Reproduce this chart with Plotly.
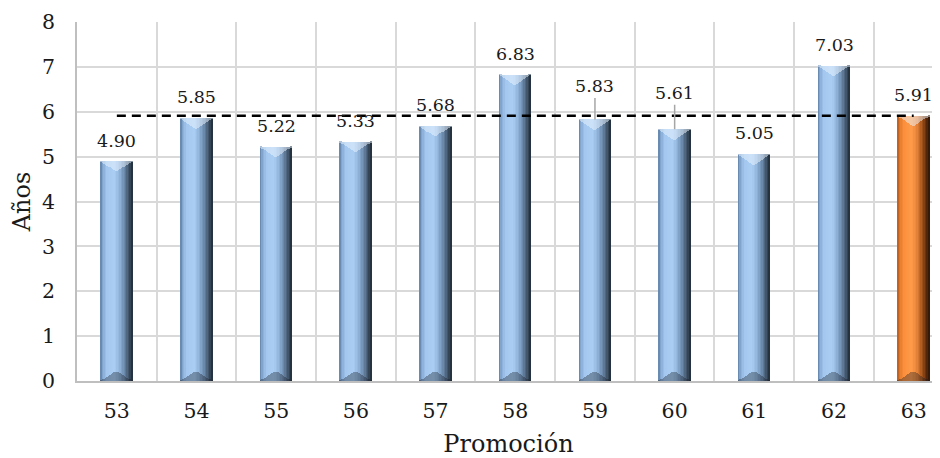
import plotly.graph_objects as go

categories = ["53", "54", "55", "56", "57", "58", "59", "60", "61", "62", "63"]
values = [4.90, 5.85, 5.22, 5.33, 5.68, 6.83, 5.83, 5.61, 5.05, 7.03, 5.91]
labels = ["4.90", "5.85", "5.22", "5.33", "5.68", "6.83", "5.83", "5.61", "5.05", "7.03", "5.91"]
average = 5.91
label_shift = [20, 21, 21, 21, 21, 21, 33, 36, 21, 21, 21]
leader = [False, False, False, False, False, False, True, True, False, False, False]
highlight = "63"

FONT = "DejaVu Serif"

blue_stops = [(0.0, "#5f7fa3"), (0.08, "#86aad3"), (0.2, "#a3c7ee"), (0.45, "#aacef3"),
              (0.6, "#90b3d9"), (0.75, "#6b89ab"), (0.88, "#45596f"), (1.0, "#1e2a36")]
orange_stops = [(0.0, "#b85a1a"), (0.08, "#e27b2c"), (0.2, "#fb8f3c"), (0.45, "#ff9b4a"),
                (0.6, "#e8853a"), (0.75, "#b35e20"), (0.88, "#6e3510"), (1.0, "#2a1205")]


def hex2rgb(h):
    h = h.lstrip("#")
    return [int(h[i:i + 2], 16) for i in (0, 2, 4)]


def interp(stops, p):
    for (p0, c0), (p1, c1) in zip(stops[:-1], stops[1:]):
        if p0 <= p <= p1:
            t = (p - p0) / (p1 - p0) if p1 > p0 else 0
            a, b = hex2rgb(c0), hex2rgb(c1)
            return [a[k] + (b[k] - a[k]) * t for k in range(3)]
    return hex2rgb(stops[-1][1])


def blend(rgb, target, t):
    return "rgb(%d,%d,%d)" % tuple(round(rgb[k] + (target[k] - rgb[k]) * t) for k in range(3))


fig = go.Figure()

N = 22
BW = 0.40
sw = BW / N
D_TOP = 0.24
D_BOT = 0.22
for i in range(N):
    p = (i + 0.5) / N
    off = -BW / 2 + i * sw
    cols, top_cols, bot_cols = [], [], []
    for c in categories:
        base = interp(orange_stops if c == highlight else blue_stops, p)
        cols.append(blend(base, base, 0))
        top_cols.append(blend(base, [235, 245, 255], 0.5))
        bot_cols.append(blend(base, [20, 25, 35], 0.35))
    hfac = 1 - abs(2 * p - 1)
    common = dict(x=categories, width=sw * 1.08, offset=off, showlegend=False,
                  hoverinfo="skip", marker_line_width=0)
    fig.add_trace(go.Bar(y=values, marker_color=cols, **common))
    ht = D_TOP * hfac
    fig.add_trace(go.Bar(y=[ht] * len(values), base=[v - ht for v in values],
                         marker_color=top_cols, **common))
    hb = D_BOT * hfac
    fig.add_trace(go.Bar(y=[hb] * len(values), base=[0] * len(values),
                         marker_color=bot_cols, **common))

fig.add_trace(go.Scatter(x=[categories[0], categories[-1]], y=[average, average],
                         mode="lines", line=dict(color="black", width=2.5, dash="9px,6px"),
                         showlegend=False, hoverinfo="skip"))

for idx, (v, t, s, ld) in enumerate(zip(values, labels, label_shift, leader)):
    fig.add_annotation(x=idx, y=v, xref="x", yref="y", text=t, showarrow=True, arrowhead=0,
                       arrowwidth=1.5, arrowcolor="#a6a6a6" if ld else "rgba(0,0,0,0)",
                       ax=0, ay=-s, standoff=0,
                       font=dict(family=FONT, size=17.5, color="#1a1a1a"))

fig.update_layout(
    width=932, height=450,
    margin=dict(l=69, r=0, t=14, b=77),
    paper_bgcolor="white", plot_bgcolor="white",
    barmode="overlay", bargap=0,
    font=dict(family=FONT, color="#1a1a1a"),
    xaxis=dict(
        type="category", range=[-0.5, 10.33], tickson="boundaries",
        showgrid=True, gridcolor="#d9d9d9", gridwidth=1.5,
        showline=True, linecolor="#bfbfbf", linewidth=1.5,
        ticks="", tickfont=dict(size=20.5), ticklabelstandoff=11,
        title=dict(text="Promoción", font=dict(size=24), standoff=15),
    ),
    yaxis=dict(
        range=[0, 8], dtick=1, showgrid=True, gridcolor="#d9d9d9", gridwidth=1.5,
        showline=True, linecolor="#bfbfbf", linewidth=1.5, zeroline=False,
        ticks="", tickfont=dict(size=20.5), ticklabelstandoff=16,
        title=dict(text="Años", font=dict(size=24), standoff=7),
    ),
)

fig.write_html("out.html")
